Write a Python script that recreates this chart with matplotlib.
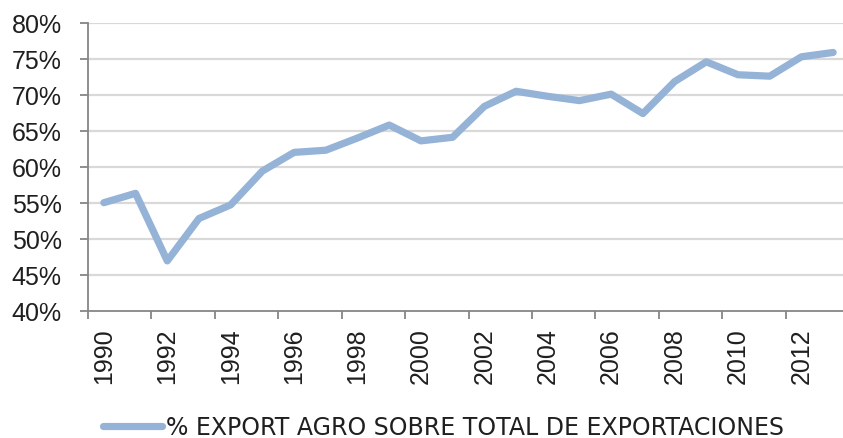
import matplotlib
matplotlib.use("Agg")
import matplotlib.pyplot as plt
from matplotlib.lines import Line2D

years = list(range(1990, 2014))
values = [55.0, 56.3, 46.9, 52.8, 54.7, 59.4, 62.0, 62.3, 64.0, 65.8,
          63.6, 64.1, 68.4, 70.5, 69.8, 69.2, 70.1, 67.4, 71.85, 74.6,
          72.8, 72.6, 75.3, 75.9]
yticks = [40, 45, 50, 55, 60, 65, 70, 75, 80]
series_label = "% EXPORT AGRO SOBRE TOTAL DE EXPORTACIONES"

W, H = 843, 439
fig = plt.figure(figsize=(W / 100, H / 100), dpi=100)
ax = fig.add_axes([88 / W, 1 - 311.5 / H, 761 / W, 287.5 / H])

line_color = "#95B3D7"
grid_color = "#D9D9D9"
spine_color = "#868686"
text_color = "#1F1F1F"

x = list(range(len(years)))
ax.plot(x, values, color=line_color, lw=5.2, solid_joinstyle="round",
        solid_capstyle="round", zorder=3, clip_on=False)

ax.set_xlim(-0.5, len(years) - 0.5)
ax.set_ylim(40, 80)
ax.set_yticks(yticks)
ax.set_yticklabels([f"{v}%" for v in yticks], fontsize=18,
                   family="Liberation Sans", color=text_color)
for v in yticks[1:]:
    ax.axhline(v, color=grid_color, lw=1.6, zorder=1)

# x ticks: marks at boundaries every 2 categories, labels at category centres
ax.set_xticks([i - 0.5 for i in range(0, len(years) + 1, 2)])
ax.set_xticklabels([])
ax.set_xticks(list(range(0, len(years), 2)), minor=True)
ax.set_xticklabels([str(years[i]) for i in range(0, len(years), 2)], minor=True,
                   rotation=90, fontsize=18, family="Liberation Sans",
                   color=text_color)
ax.tick_params(axis="x", which="major", length=6, width=1.3, color=spine_color,
               direction="out")
ax.tick_params(axis="x", which="minor", length=0, pad=12)
ax.tick_params(axis="y", length=6, width=1.3, color=spine_color, pad=13)

for s in ["top", "right"]:
    ax.spines[s].set_visible(False)
for s in ["left", "bottom"]:
    ax.spines[s].set_color(spine_color)
    ax.spines[s].set_linewidth(1.3)

handle = Line2D([], [], color=line_color, lw=5.2, solid_capstyle="round")
fig.legend([handle], [series_label], loc="center left",
           bbox_to_anchor=(94 / W, 1 - 428 / H), frameon=False,
           handlelength=2.5, handletextpad=0.15, borderaxespad=0,
           prop={"family": "Liberation Sans Narrow", "size": 17},
           labelcolor=text_color)

fig.savefig("out.png", dpi=100)
